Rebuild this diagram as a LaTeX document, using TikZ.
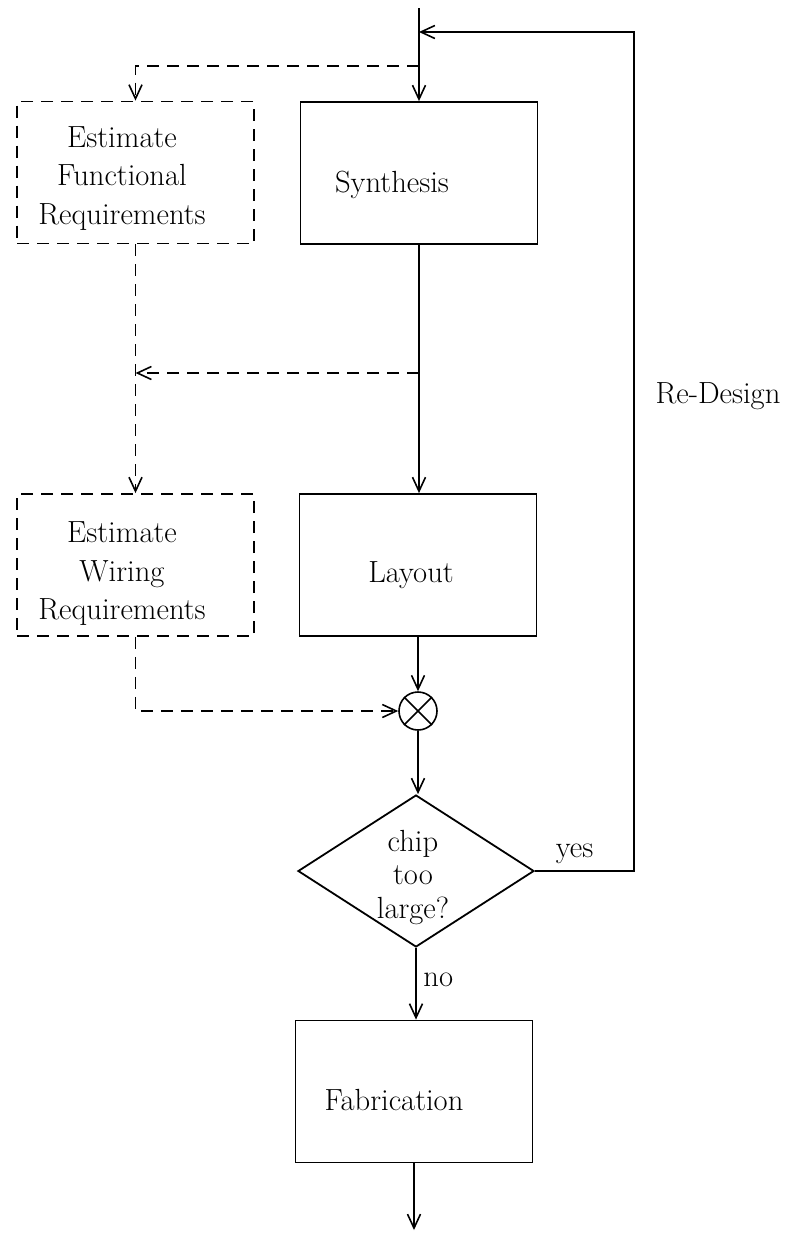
\documentclass[tikz,border=0pt]{standalone}
\usetikzlibrary{arrows.meta,shapes.geometric}
\begin{document}
\begin{tikzpicture}[x=0.5pt,y=-0.5pt,
  font=\fontsize{15.3}{19.25}\selectfont,
  box/.style={draw, line width=0.9pt, minimum width=118.5pt, minimum height=71pt, inner sep=0pt},
  estbox/.style={box, dash pattern=on 6pt off 4pt},
  flow/.style={line width=0.8pt, -{Straight Barb[length=7pt,width=6.5pt]}},
  dflow/.style={flow, dash pattern=on 6pt off 4pt},
  plain/.style={line width=0.8pt}]
\useasboundingbox (0,0) rectangle (796,1233);

% process boxes
\node[box] (syn) at (419,173) {};
\node[box] (lay) at (418,565) {};
\node[box] (fab) at (414,1091.5) {};
\node (syntxt) at (392,185) {Synthesis};
\node (laytxt) at (411,575) {Layout};
\node (fabtxt) at (394,1100) {Fabrication};

% estimation boxes
\node[estbox] (ef) at (135.5,172.5) {};
\node[estbox] (ew) at (135.5,565) {};
\node[align=center] (eftxt) at (122,178.5) {Estimate\\Functional\\Requirements};
\node[align=center] (ewtxt) at (122,574) {Estimate\\Wiring\\Requirements};

% comparison point
\node[draw, circle, line width=0.8pt, minimum size=19pt, inner sep=0pt] (mix) at (418,711) {};
\draw[plain] (mix.north west) -- (mix.south east);
\draw[plain] (mix.north east) -- (mix.south west);

% decision
\node[draw, diamond, line width=0.9pt, minimum width=118pt, minimum height=76pt, aspect=1.55, inner sep=0pt] (dec) at (416,871) {};
\node[align=center, font=\fontsize{15.3}{16.75}\selectfont] (dectxt) at (413,877) {chip\\too\\large?};

% main flow
\coordinate (start) at (419,8);
\coordinate (end) at (414,1230);
\coordinate (tapA) at (419,66);
\coordinate (tapB) at (419,373);
\coordinate (merge) at (419,32);
\coordinate (loopR) at (634,871);
\draw[flow] (start) -- (syn.north);
\draw[flow] (syn.south) -- (syn.south |- lay.north);
\draw[flow] (lay.south) -- (mix.north);
\draw[flow] (mix.south) -- (mix.south |- dec.north);
\draw[flow] (dec.south) -- node[right, pos=0.45] (no) {no} (dec.south |- fab.north);
\draw[flow] (fab.south) -- (end);

% re-design loop
\draw[flow] (dec.east) -- node[above, pos=0.4] (yes) {yes} (loopR) |- (merge);
\node (redesign) at (718,396) {Re-Design};

% estimation flow
\draw[dflow] (tapA) -| (ef.north);
\draw[dflow] (tapB) -- (ef.south |- tapB);
\draw[dflow] (ef.south) -- (ew.north);
\draw[dflow] (ew.south) |- (mix.west);
\end{tikzpicture}
\end{document}
